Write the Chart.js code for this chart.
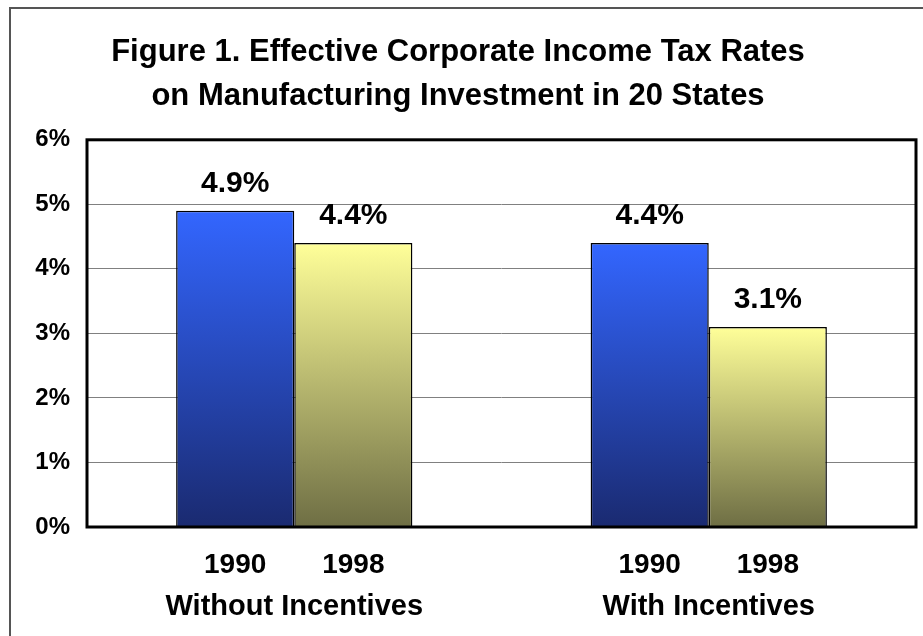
<!DOCTYPE html>
<html>
<head>
<meta charset="utf-8">
<script src="https://cdn.jsdelivr.net/npm/chart.js@4"></script>
<style>
  html, body { margin: 0; padding: 0; background: #fff; }
  #wrap { width: 923px; height: 636px; }
</style>
</head>
<body>
<div id="wrap"><canvas id="taxChart" width="923" height="636"></canvas></div>
<script>
const groups = ['Without Incentives', 'With Incentives'];
const years = ['1990', '1998'];
const rates1990 = [4.9, 4.4];
const rates1998 = [4.4, 3.1];
const yTicks = [0, 1, 2, 3, 4, 5, 6];

const FONT = '"Liberation Sans", Arial, Helvetica, sans-serif';

// per-bar vertical gradient, bright on top, dark at the base
function barGradient(top, bottom) {
    return function(context) {
        const chart = context.chart;
        if (!chart.chartArea || context.parsed == null) return top;
        const y = chart.scales.y;
        const y0 = y.getPixelForValue(context.parsed.y);
        const y1 = y.getPixelForValue(0);
        const g = chart.ctx.createLinearGradient(0, y0, 0, y1);
        g.addColorStop(0, top);
        g.addColorStop(1, bottom);
        return g;
    };
}

const framePlugin = {
    id: 'frame',
    beforeDraw(chart) {
        const ctx = chart.ctx;
        ctx.save();
        ctx.strokeStyle = '#555';
        ctx.lineWidth = 2;
        ctx.strokeRect(10, 8, 960, 700);
        ctx.restore();
    },
    afterDatasetsDraw(chart) {
        const a = chart.chartArea;
        const ctx = chart.ctx;
        ctx.save();
        ctx.strokeStyle = '#000';
        ctx.lineWidth = 3;
        ctx.strokeRect(a.left, a.top, a.right - a.left, a.bottom - a.top);
        ctx.restore();
    }
};

const labelPlugin = {
    id: 'barLabels',
    afterDraw(chart) {
        const ctx = chart.ctx;
        const a = chart.chartArea;
        ctx.save();
        ctx.fillStyle = '#000';
        ctx.textAlign = 'center';
        ctx.textBaseline = 'alphabetic';
        chart.data.datasets.forEach((ds, i) => {
            const meta = chart.getDatasetMeta(i);
            meta.data.forEach((bar, j) => {
                ctx.font = 'bold 30px ' + FONT;
                ctx.fillText(ds.data[j].toFixed(1) + '%', bar.x, bar.y - 19);
                ctx.font = 'bold 28px ' + FONT;
                ctx.fillText(ds.label, bar.x, a.bottom + 46);
            });
        });
        ctx.restore();
    }
};

const ctx = document.getElementById('taxChart').getContext('2d');
new Chart(ctx, {
    type: 'bar',
    data: {
        labels: groups,
        datasets: [{
            label: years[0],
            data: rates1990,
            backgroundColor: barGradient('#3366ff', '#1a2a70'),
            borderColor: '#000',
            borderWidth: 1.5
        }, {
            label: years[1],
            data: rates1998,
            backgroundColor: barGradient('#ffff99', '#6e6e44'),
            borderColor: '#000',
            borderWidth: 1.5
        }]
    },
    options: {
        responsive: false,
        animation: false,
        layout: { padding: { left: 0, right: 7, top: 0, bottom: 0 } },
        datasets: { bar: { categoryPercentage: 0.57, barPercentage: 1.0 } },
        plugins: {
            legend: { display: false },
            tooltip: { enabled: false },
            title: {
                display: true,
                text: ['Figure 1. Effective Corporate Income Tax Rates',
                       'on Manufacturing Investment in 20 States'],
                color: '#000',
                font: { family: FONT, size: 31, weight: 'bold', lineHeight: 1.4 },
                padding: { top: 31, bottom: 22 }
            }
        },
        scales: {
            x: {
                grid: { display: false, drawTicks: false },
                border: { display: false },
                ticks: {
                    color: '#000',
                    padding: 63,
                    font: { family: FONT, size: 29, weight: 'bold' }
                },
                afterFit(scale) { scale.height = 109; }
            },
            y: {
                min: 0,
                max: 6,
                afterBuildTicks(scale) { scale.ticks = yTicks.map(v => ({ value: v })); },
                grid: { color: '#808080', lineWidth: 1, drawTicks: false },
                border: { display: false },
                ticks: {
                    color: '#000',
                    padding: 17,
                    font: { family: FONT, size: 24, weight: 'bold' },
                    callback: v => v + '%'
                },
                afterFit(scale) { scale.width = 87; }
            }
        }
    },
    plugins: [framePlugin, labelPlugin]
});
</script>
</body>
</html>
